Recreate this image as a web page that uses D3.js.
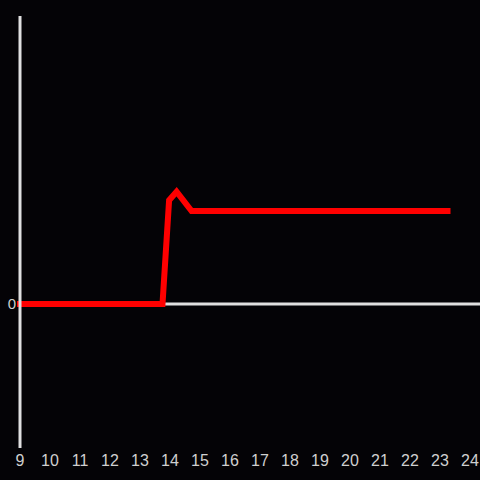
<!DOCTYPE html>
<html>
<head>
<meta charset="utf-8">
<script src="https://cdn.jsdelivr.net/npm/d3@7"></script>
<style>
  html, body { margin: 0; padding: 0; background: #040306; }
  svg { display: block; }
</style>
</head>
<body>
<svg id="chart" width="480" height="480"></svg>
<script>
// data
const times = [9, 13.75, 13.97, 14.22, 14.72, 23.25];
const values = [0, 0, 0.72, 0.78, 0.645, 0.645];
const xTicks = [9, 10, 11, 12, 13, 14, 15, 16, 17, 18, 19, 20, 21, 22, 23, 24];
const yTicks = [0];

const svg = d3.select("#chart");
const width = 480, height = 480;

svg.append("rect").attr("width", width).attr("height", height).attr("fill", "#040306");

const x = d3.scaleLinear().domain([9, 24]).range([20, 470]);
const y = d3.scaleLinear().domain([-1, 2]).range([448, 16]);

const axisColor = "#e0e0e0";

// zero line
svg.append("line")
  .attr("x1", x(9)).attr("x2", width)
  .attr("y1", y(0)).attr("y2", y(0))
  .attr("stroke", axisColor)
  .attr("stroke-width", 3);

// series
const line = d3.line().x((d, i) => x(times[i])).y(d => y(d));
svg.append("path")
  .datum(values)
  .attr("d", line)
  .attr("fill", "none")
  .attr("stroke", "#ff0000")
  .attr("stroke-width", 6)
  .attr("stroke-linecap", "square")
  .attr("stroke-linejoin", "miter");

// y axis line
svg.append("line")
  .attr("x1", x(9)).attr("x2", x(9))
  .attr("y1", y(2)).attr("y2", y(-1))
  .attr("stroke", axisColor)
  .attr("stroke-width", 3);

// x tick labels
svg.append("g")
  .selectAll("text")
  .data(xTicks)
  .enter()
  .append("text")
  .attr("x", d => x(d))
  .attr("y", 466)
  .attr("text-anchor", "middle")
  .attr("fill", "#cfcfcf")
  .style("font-family", "'Liberation Sans', Arial, sans-serif")
  .style("font-size", "16px")
  .text(d => d);

// y tick labels
svg.append("g")
  .selectAll("text")
  .data(yTicks)
  .enter()
  .append("text")
  .attr("x", 16)
  .attr("y", d => y(d))
  .attr("dy", "0.36em")
  .attr("text-anchor", "end")
  .attr("fill", "#cfcfcf")
  .style("font-family", "'Liberation Sans', Arial, sans-serif")
  .style("font-size", "15px")
  .text(d => d);
</script>
</body>
</html>
